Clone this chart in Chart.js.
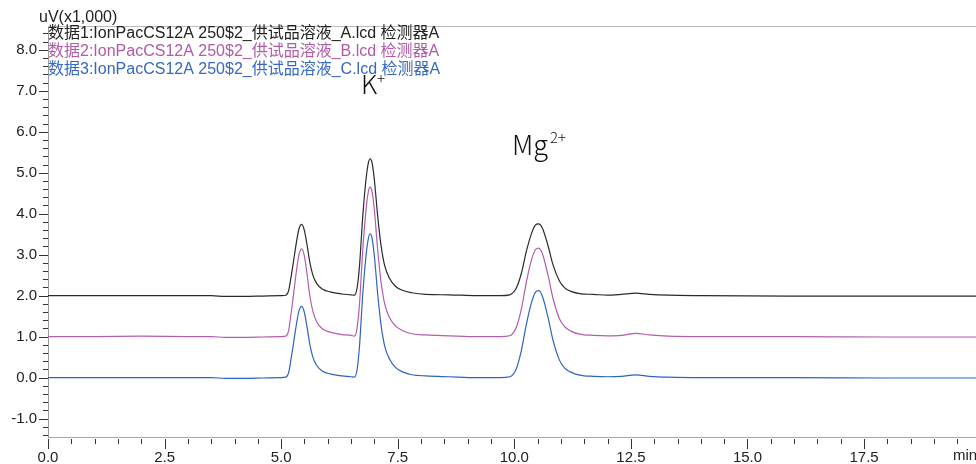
<!DOCTYPE html>
<html lang="zh">
<head>
  <meta charset="UTF-8" />
  <title>Chromatogram</title>
  <script src="https://cdn.jsdelivr.net/npm/chart.js"></script>
  <style>
    body { margin: 0; padding: 0; background: #ffffff; }
    .wrap { width: 976px; height: 464px; position: relative; }
  </style>
</head>
<body>
  <div class="wrap"><canvas id="chrom"></canvas></div>

  <script>
    // retention time (min)
    const times = [0, 1, 2, 3, 3.5, 3.8, 4.2, 4.6, 5.0,
      5.10, 5.16, 5.21, 5.26, 5.32, 5.38, 5.44, 5.50, 5.56, 5.62, 5.68, 5.76, 5.88, 6.05, 6.3, 6.5,
      6.57, 6.63, 6.68, 6.75, 6.82, 6.87, 6.91, 6.95, 7.0, 7.07, 7.14, 7.22, 7.32, 7.45, 7.6, 7.8, 8.1, 8.6, 9.2,
      9.7, 9.9, 10.04, 10.15, 10.26, 10.36, 10.45, 10.52, 10.6, 10.72, 10.83, 10.97, 11.08, 11.2, 11.4, 11.7, 12.0,
      12.3, 12.6, 12.9, 13.3, 14, 16, 18, 20];

    // uV x1000
    const seriesA = [2.0, 2.0, 2.0, 2.0, 2.0, 1.98, 1.98, 1.99, 2.0,
      2.01, 2.12, 2.44, 2.80, 3.25, 3.62, 3.74, 3.58, 3.20, 2.78, 2.50, 2.30, 2.16, 2.09, 2.04, 2.02,
      2.01, 2.20, 2.73, 3.94, 4.84, 5.24, 5.34, 5.24, 4.81, 3.94, 3.24, 2.73, 2.43, 2.23, 2.13, 2.07, 2.03, 2.02, 2.0,
      2.0, 2.02, 2.18, 2.54, 3.09, 3.49, 3.72, 3.75, 3.65, 3.23, 2.75, 2.35, 2.19, 2.11, 2.05, 2.03, 2.01,
      2.03, 2.06, 2.03, 2.01, 2.0, 1.99, 1.99, 1.99];
    const seriesB = [1.0, 1.0, 1.01, 1.0, 1.0, 0.98, 0.98, 0.99, 1.0,
      1.01, 1.15, 1.54, 1.98, 2.54, 2.99, 3.14, 2.95, 2.48, 1.96, 1.62, 1.36, 1.19, 1.11, 1.05, 1.03,
      1.01, 1.22, 1.80, 3.12, 4.10, 4.54, 4.65, 4.54, 4.07, 3.12, 2.35, 1.80, 1.47, 1.26, 1.15, 1.07, 1.04, 1.02, 1.0,
      1.0, 1.02, 1.22, 1.67, 2.34, 2.84, 3.12, 3.16, 3.03, 2.51, 1.93, 1.43, 1.24, 1.14, 1.06, 1.03, 1.02,
      1.03, 1.08, 1.04, 1.01, 1.0, 1.0, 0.99, 0.99];
    const seriesC = [0.0, 0.0, 0.0, 0.0, 0.0, -0.02, -0.02, -0.01, 0.0,
      0.01, 0.12, 0.44, 0.80, 1.25, 1.62, 1.74, 1.58, 1.20, 0.78, 0.50, 0.30, 0.16, 0.09, 0.04, 0.02,
      0.01, 0.21, 0.77, 2.04, 2.98, 3.40, 3.51, 3.40, 2.95, 2.04, 1.30, 0.77, 0.46, 0.25, 0.14, 0.07, 0.04, 0.02, 0.0,
      0.0, 0.02, 0.21, 0.66, 1.31, 1.80, 2.08, 2.12, 1.99, 1.48, 0.91, 0.42, 0.23, 0.14, 0.06, 0.03, 0.02,
      0.03, 0.065, 0.03, 0.01, 0.0, 0.0, -0.01, -0.01];

    const seriesNames = [
      '数据1:IonPacCS12A 250$2_供试品溶液_A.lcd 检测器A',
      '数据2:IonPacCS12A 250$2_供试品溶液_B.lcd 检测器A',
      '数据3:IonPacCS12A 250$2_供试品溶液_C.lcd 检测器A'
    ];
    const xTickLabels = [0, 2.5, 5, 7.5, 10, 12.5, 15, 17.5];
    const yTickLabels = [-1, 0, 1, 2, 3, 4, 5, 6, 7, 8];

    const labelFont = '"Liberation Sans", "Noto Sans CJK SC", sans-serif';
    const colors = ['#2a2a2a', '#b45cad', '#2f63c0'];
    const textColors = ['#222222', '#b05aa8', '#3568c2'];

    const toPts = vals => times.map((t, i) => ({ x: t, y: vals[i] }));

    // tick marks, legend text, peak names
    const decorations = {
      id: 'decorations',
      afterDraw(chart) {
        const ctx = chart.ctx;
        const x = chart.scales.x, y = chart.scales.y;
        const area = chart.chartArea;
        ctx.save();
        // top border
        ctx.strokeStyle = '#bdbdbd';
        ctx.lineWidth = 1;
        ctx.beginPath();
        ctx.moveTo(area.left, area.top + 0.5);
        ctx.lineTo(area.right, area.top + 0.5);
        ctx.stroke();

        ctx.strokeStyle = '#333';
        ctx.beginPath();
        for (let k = -7; k <= 42; k++) {
          const py = Math.round(y.getPixelForValue(k / 5)) + 0.5;
          if (py < area.top || py > area.bottom) continue;
          const len = k % 5 === 0 ? 9 : 5;
          ctx.moveTo(area.left - len, py);
          ctx.lineTo(area.left, py);
        }
        for (let k = 0; k <= 40; k++) {
          const px = Math.round(x.getPixelForValue(k * 0.5)) + 0.5;
          if (px > area.right) continue;
          const len = k % 5 === 0 ? 10 : 5;
          ctx.moveTo(px, area.bottom + 2);
          ctx.lineTo(px, area.bottom + 2 + len);
        }
        ctx.stroke();

        ctx.textBaseline = 'middle';
        ctx.textAlign = 'left';
        ctx.font = '16px ' + labelFont;
        ctx.fillStyle = '#222';
        ctx.fillText('uV(x1,000)', 39, 18);
        ctx.font = '15px ' + labelFont;
        ctx.fillText('min', 953, 456);

        ctx.font = '16px ' + labelFont;
        seriesNames.forEach((name, i) => {
          ctx.fillStyle = textColors[i];
          ctx.fillText(name, 48, 34 + i * 17.8);
        });

        // ion labels
        const ionFont = '"Noto Sans CJK SC", "Noto Sans", sans-serif';
        ctx.fillStyle = '#111';
        ctx.textBaseline = 'alphabetic';
        ctx.font = '300 26px ' + ionFont;
        ctx.fillText('K', 361, 94);
        ctx.font = '300 27px ' + ionFont;
        ctx.fillText('Mg', 512, 155);
        ctx.font = '300 15px ' + ionFont;
        ctx.fillText('+', 377, 84);
        ctx.fillText('2+', 550, 143);
        ctx.restore();
      }
    };

    new Chart(document.getElementById('chrom'), {
      type: 'line',
      data: {
        datasets: [seriesA, seriesB, seriesC].map((vals, i) => ({
          label: seriesNames[i],
          data: toPts(vals),
          borderColor: colors[i],
          borderWidth: 1.2,
          pointRadius: 0,
          cubicInterpolationMode: 'monotone',
          fill: false
        }))
      },
      options: {
        responsive: true,
        maintainAspectRatio: false,
        animation: false,
        layout: { padding: { top: 26, right: 0, left: 0, bottom: 0 } },
        plugins: { legend: { display: false }, tooltip: { enabled: false } },
        scales: {
          x: {
            type: 'linear',
            min: 0,
            max: 19.9,
            afterFit: s => { s.height = 27; s.paddingLeft = 0; s.paddingRight = 0; },
            border: { display: true, color: '#a8a8a8', width: 1 },
            grid: { display: false, drawTicks: false },
            ticks: {
              stepSize: 2.5,
              padding: 12,
              maxRotation: 0,
              autoSkip: false,
              color: '#222',
              font: { family: labelFont, size: 15 },
              callback: v => xTickLabels.includes(v) ? v.toFixed(1) : ''
            }
          },
          y: {
            type: 'linear',
            min: -1.45,
            max: 8.58,
            afterFit: s => { s.width = 48; s.paddingTop = 0; s.paddingBottom = 0; },
            border: { display: true, color: '#9a9a9a', width: 1 },
            grid: { display: false, drawTicks: false },
            ticks: {
              stepSize: 1,
              padding: 11,
              color: '#222',
              font: { family: labelFont, size: 15 },
              callback: v => yTickLabels.includes(v) ? v.toFixed(1) : ''
            }
          }
        }
      },
      plugins: [decorations]
    });
  </script>
</body>
</html>
